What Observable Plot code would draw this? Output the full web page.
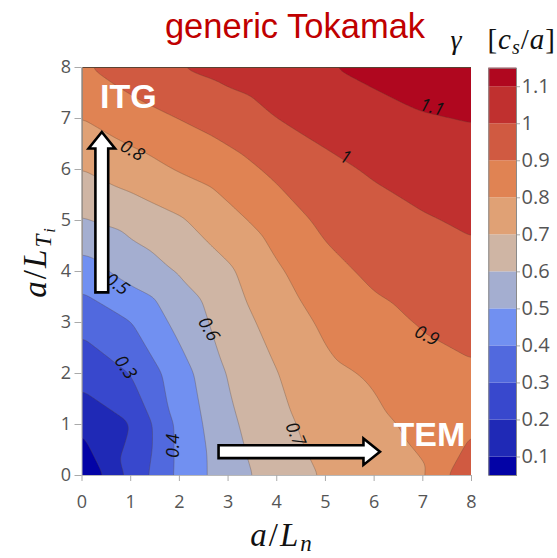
<!DOCTYPE html>
<html>
<head>
<meta charset="utf-8">
<script src="https://cdn.jsdelivr.net/npm/d3@7"></script>
<script src="https://cdn.jsdelivr.net/npm/@observablehq/plot@0.6"></script>
<style>
  body { margin: 0; background: #fff; }
  #fig { position: relative; width: 557px; height: 558px; overflow: hidden; }
  #fig > svg { position: absolute; top: 0; }
</style>
</head>
<body>
<div id="fig"></div>
<script>
// Grid axes: normalized density gradient a/L_n and ion temperature gradient a/L_Ti
const aLn = [0, 1, 2, 3, 4, 5, 6, 7, 8];
const aLTi = [0, 1, 2, 3, 4, 5, 6, 7, 8];

// Linear growth rate gamma [c_s/a] on the grid; one row per a/L_Ti (from 0 up to 8),
// columns follow a/L_n from 0 to 8.
const gamma = [
  [0.000, 0.228, 0.425, 0.556, 0.643, 0.710, 0.753, 0.790, 1.000],
  [0.118, 0.198, 0.426, 0.580, 0.670, 0.744, 0.779, 0.823, 0.878],
  [0.240, 0.302, 0.455, 0.607, 0.697, 0.778, 0.811, 0.866, 0.888],
  [0.324, 0.397, 0.530, 0.646, 0.740, 0.818, 0.869, 0.908, 0.930],
  [0.453, 0.539, 0.608, 0.684, 0.786, 0.869, 0.920, 0.950, 0.970],
  [0.593, 0.635, 0.688, 0.767, 0.848, 0.922, 0.964, 0.991, 1.014],
  [0.700, 0.752, 0.807, 0.858, 0.920, 0.976, 1.011, 1.042, 1.059],
  [0.800, 0.856, 0.902, 0.947, 1.000, 1.034, 1.065, 1.094, 1.104],
  [0.890, 0.950, 1.000, 1.033, 1.064, 1.095, 1.125, 1.140, 1.150]
];

// Contour levels and the fill of each band (below 0.1, 0.1–0.2, …, above 1.1)
const levels = [0.1, 0.2, 0.3, 0.4, 0.5, 0.6, 0.7, 0.8, 0.9, 1, 1.1];
const bandColors = [
  "#0303a6", "#1f29b6", "#3848cd", "#5169de", "#7190f1", "#a4aed0",
  "#cfb5a4", "#e0a175", "#e08353", "#d05a41", "#c0302f", "#b0071f"
];
const barMin = 0.05, barMax = 1.15;

// Inline contour labels
const labelText = ["0.3", "0.4", "0.5", "0.6", "0.7", "0.8", "0.9", "1", "1.1"];
const labelX = [0.89, 1.88, 0.72, 2.60, 4.38, 1.03, 7.08, 5.41, 7.19];
const labelY = [2.12, 0.58, 3.75, 2.87, 0.81, 6.37, 2.74, 6.24, 7.22];
const labelAngle = [55, -90, 35, 60, 66, 30, 25, 22, 15];

// Regime annotations: block arrows (tail → tip) and their names
const arrowX1 = [0.417, 2.815];
const arrowY1 = [3.58, 0.457];
const arrowX2 = [0.417, 6.13];
const arrowY2 = [6.725, 0.457];
const regimeName = ["ITG", "TEM"];
const regimeX = [0.37, 6.40];
const regimeY = [7.215, 0.58];

// One sample per grid node
const samples = aLTi.flatMap((yv, j) => aLn.map((xv, i) => ({x: xv, y: yv, g: gamma[j][i]})));
const contourOpts = {x: "x", y: "y", interpolate: "barycentric", pixelSize: 1, blur: 4, clip: true};

// Block arrow drawn through the plot's own scales
function blockArrows(index, scales) {
  const g = d3.create("svg:g");
  const hw = 6.4, hh = 13.2, hl = 16.5;
  arrowX1.forEach((_, i) => {
    const x0 = scales.x(arrowX1[i]), y0 = scales.y(arrowY1[i]);
    const x1 = scales.x(arrowX2[i]), y1 = scales.y(arrowY2[i]);
    const L = Math.hypot(x1 - x0, y1 - y0), ux = (x1 - x0) / L, uy = (y1 - y0) / L;
    const nx = -uy, ny = ux;
    const bx = x1 - ux * hl, by = y1 - uy * hl;
    const pts = [
      [x0 + nx * hw, y0 + ny * hw], [bx + nx * hw, by + ny * hw], [bx + nx * hh, by + ny * hh],
      [x1, y1], [bx - nx * hh, by - ny * hh], [bx - nx * hw, by - ny * hw], [x0 - nx * hw, y0 - ny * hw]
    ];
    g.append("path")
      .attr("d", "M" + pts.map(p => p.join(",")).join("L") + "Z")
      .attr("fill", "white").attr("stroke", "black")
      .attr("stroke-width", 2.6).attr("stroke-linejoin", "miter");
  });
  return g.node();
}

const main = Plot.plot({
  width: 557, height: 558,
  marginLeft: 81.5, marginRight: 86, marginTop: 67, marginBottom: 83,
  x: {domain: [0, 8]},
  y: {domain: [0, 8]},
  color: {type: "threshold", domain: levels, range: bandColors},
  style: {fontFamily: "'Open Sans', sans-serif", fontSize: "18px", color: "#444", background: "transparent"},
  marks: [
    Plot.contour(samples, {...contourOpts, fill: "g", thresholds: [-1, ...levels]}),
    Plot.contour(samples, {...contourOpts, value: "g", thresholds: levels, fill: "none",
      stroke: "#5b4436", strokeOpacity: 0.4, strokeWidth: 0.8}),
    Plot.ruleX([0], {stroke: "#b8b8b8", strokeWidth: 1}),
    Plot.ruleY([0], {stroke: "#b8b8b8", strokeWidth: 1}),
    Plot.axisX(aLn, {tickSize: 6, tickPadding: 14, stroke: "#aaa", fill: "#555", label: null,
      fontSize: 18, tickFormat: d => String(d)}),
    Plot.axisY(aLTi, {tickSize: 7, tickPadding: 4, stroke: "#aaa", fill: "#555", label: null,
      fontSize: 18, tickFormat: d => String(d)}),
    Plot.text(labelText, {
      x: (d, i) => labelX[i], y: (d, i) => labelY[i], rotate: (d, i) => labelAngle[i],
      text: d => d, fontSize: 18, fontStyle: "italic", fill: "#111", fontFamily: "'Open Sans', sans-serif"
    }),
    blockArrows,
    Plot.text(regimeName, {
      x: (d, i) => regimeX[i], y: (d, i) => regimeY[i], text: d => d,
      textAnchor: "start", lineAnchor: "bottom", fill: "white", fontWeight: "bold",
      fontSize: 34, fontFamily: "'Liberation Sans', Arial, sans-serif"
    })
  ]
});

// Title and axis titles
const svg = d3.select(main);
svg.append("text")
  .attr("x", 295).attr("y", 38).attr("text-anchor", "middle")
  .attr("font-family", "'Liberation Sans', Arial, sans-serif").attr("font-size", 34.5)
  .attr("fill", "#c00000").text("generic Tokamak");

const serif = "'Liberation Serif', 'Times New Roman', serif";
const xl = svg.append("text")
  .attr("x", 282).attr("y", 546).attr("text-anchor", "middle")
  .attr("font-family", serif).attr("font-size", 33).attr("letter-spacing", 2).attr("fill", "#111");
xl.append("tspan").attr("font-style", "italic").text("a");
xl.append("tspan").text("/");
xl.append("tspan").attr("font-style", "italic").text("L");
xl.append("tspan").attr("font-style", "italic").attr("font-size", 23).attr("dy", 5).text("n");

const yl = svg.append("text")
  .attr("transform", "translate(46,262) rotate(-90)").attr("text-anchor", "middle")
  .attr("font-family", serif).attr("font-size", 33).attr("letter-spacing", 2).attr("fill", "#111");
yl.append("tspan").attr("font-style", "italic").text("a");
yl.append("tspan").text("/");
yl.append("tspan").attr("font-style", "italic").text("L");
yl.append("tspan").attr("font-style", "italic").attr("font-size", 23).attr("dy", 5).text("T");
yl.append("tspan").attr("font-style", "italic").attr("font-size", 16).attr("dy", 4).text("i");

// Colour bar title
svg.append("text")
  .attr("x", 456).attr("y", 49)
  .attr("font-family", serif).attr("font-size", 28).attr("font-style", "italic").attr("fill", "#111")
  .text("γ");
const ct = svg.append("text")
  .attr("x", 556).attr("y", 49).attr("text-anchor", "end")
  .attr("font-family", serif).attr("font-size", 29).attr("letter-spacing", 1).attr("fill", "#111");
ct.append("tspan").text("[");
ct.append("tspan").attr("font-style", "italic").text("c");
ct.append("tspan").attr("font-style", "italic").attr("font-size", 20).attr("dy", 5).text("s");
ct.append("tspan").attr("dy", -5).text("/");
ct.append("tspan").attr("font-style", "italic").text("a");
ct.append("tspan").text("]");

// Vertical colour bar
const bandLo = bandColors.map((c, i) => i === 0 ? barMin : levels[i - 1]);
const bandHi = bandColors.map((c, i) => i === bandColors.length - 1 ? barMax : levels[i]);
const bar = Plot.plot({
  width: 77, height: 558,
  marginLeft: 8.3, marginRight: 41, marginTop: 67.7, marginBottom: 83,
  y: {domain: [barMin, barMax]},
  color: {type: "threshold", domain: levels, range: bandColors},
  style: {fontFamily: "'Open Sans', sans-serif", fontSize: "20px", color: "#444", background: "transparent"},
  marks: [
    Plot.rect(bandColors, {y1: (d, i) => bandLo[i], y2: (d, i) => bandHi[i], fill: (d, i) => i === 0 ? 0 : levels[i - 1]}),
    Plot.frame({stroke: "#8a8a8a", strokeWidth: 1}),
    Plot.axisY(levels, {anchor: "right", tickSize: 3, tickPadding: 2, stroke: "#aaa", fill: "#555",
      tickFormat: d => String(d), label: null, fontSize: 20})
  ]
});
bar.style.left = "480px";

const fig = document.getElementById("fig");
fig.appendChild(main);
fig.appendChild(bar);
main.style.left = "0px";
</script>
</body>
</html>
